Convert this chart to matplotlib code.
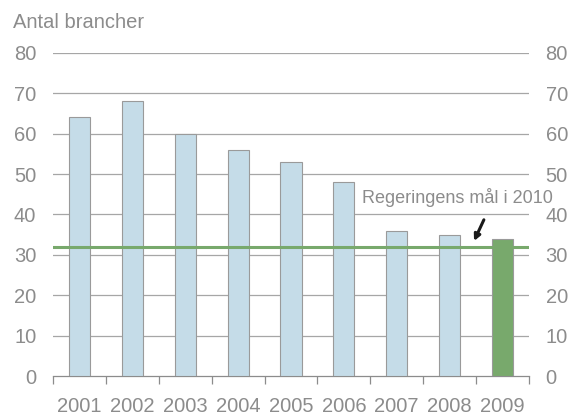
import numpy as np
import matplotlib
matplotlib.use('Agg')
import matplotlib.pyplot as plt

plt.rcParams['font.family'] = ['Liberation Sans', 'DejaVu Sans']

years = ['2001', '2002', '2003', '2004', '2005', '2006', '2007', '2008', '2009']
brancher = [64, 68, 60, 56, 53, 48, 36, 35, 34]
maal = 32
yticks = [0, 10, 20, 30, 40, 50, 60, 70, 80]

grey = '#8c8c8c'
blue = '#c5dce8'
green = '#78a96c'

fig = plt.figure(figsize=(5.72, 4.16), dpi=100)
ax = fig.add_axes([0.0927, 0.096, 0.832, 0.777])

x = np.arange(len(years))
colors = [blue] * (len(years) - 1) + [green]
ax.bar(x, brancher, width=0.4, color=colors, edgecolor='#9a9a9a', linewidth=0.8, zorder=3)
ax.axhline(maal, color=green, linewidth=2.2, zorder=4)

ax.set_xlim(-0.5, len(years) - 0.5)
ax.set_ylim(0, 80)
ax.set_yticks(yticks)
for t in yticks[1:]:
    ax.axhline(t, color='#a6a6a6', linewidth=0.9, zorder=1)

# category boundary ticks, labels at centres
ax.set_xticks(np.arange(-0.5, len(years)), minor=False)
ax.set_xticklabels([])
ax.set_xticks(x, minor=True)
ax.set_xticklabels(years, minor=True)
ax.tick_params(axis='x', which='major', length=6, color=grey, width=0.9)
ax.tick_params(axis='x', which='minor', length=0, pad=15, labelsize=14.5, labelcolor=grey)
ax.tick_params(axis='y', length=0, pad=12, labelsize=14.5, labelcolor=grey,
               right=True, labelright=True)

for s in ['top', 'left', 'right']:
    ax.spines[s].set_visible(False)
ax.spines['bottom'].set_color(grey)
ax.spines['bottom'].set_linewidth(0.9)

fig.text(0.023, 0.947, 'Antal brancher', fontsize=14.5, color=grey, va='center', ha='left')

ax.annotate('', xy=(7.44, 32.8), xytext=(7.67, 39.3),
            arrowprops=dict(arrowstyle='-|>', color='#1a1a1a', lw=2.2, mutation_scale=9), zorder=5)
ax.text(7.14, 44.2, 'Regeringens mål i 2010', fontsize=13, color=grey,
        ha='center', va='center', zorder=5)

fig.savefig('out.png', dpi=100)
